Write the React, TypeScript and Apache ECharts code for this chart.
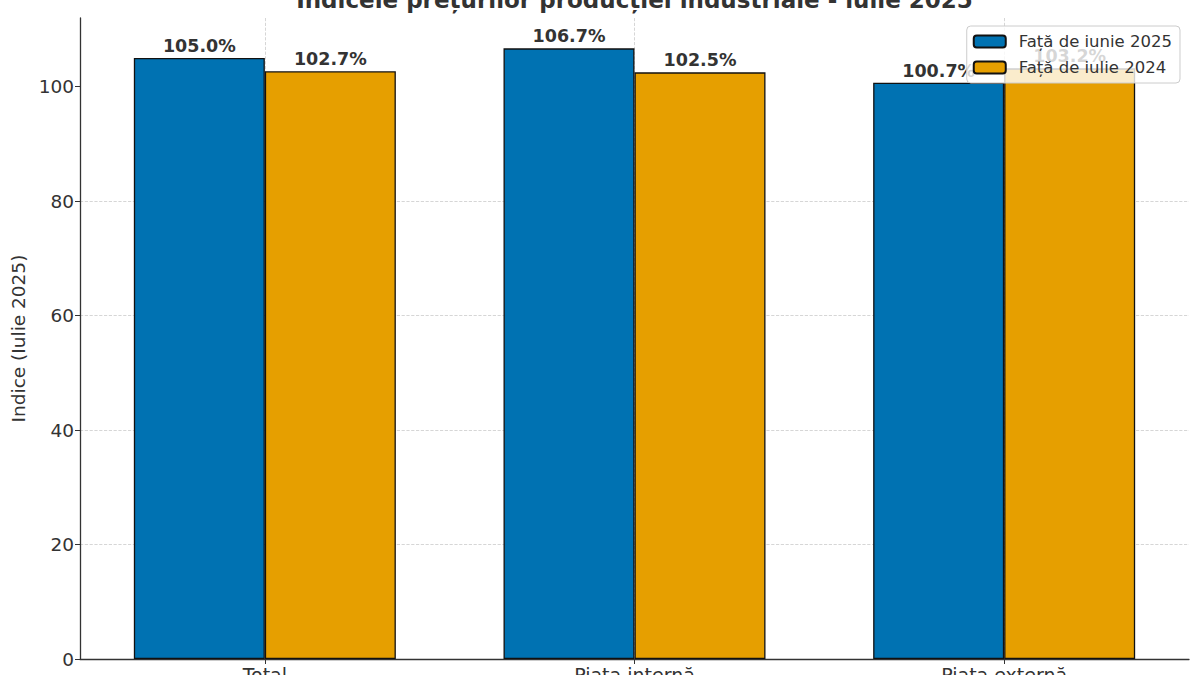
import React, { useEffect, useRef } from "react";
import * as echarts from "echarts";

const TITLE = "Indicele prețurilor producției industriale - iulie 2025";
const Y_NAME = "Indice (Iulie 2025)";
const categories = ["Total", "Piața internă", "Piața externă"];
const seriesNames = ["Față de iunie 2025", "Față de iulie 2024"];
const vsJune2025 = [105.0, 106.7, 100.7];
const vsJuly2024 = [102.7, 102.5, 103.2];
const yTicks = [0, 20, 40, 60, 80, 100];
const colors = ["#0072B2", "#E69F00"];

const FONT = "DejaVu Sans";

export default function App() {
  const ref = useRef<HTMLDivElement>(null);
  useEffect(() => {
    document.body.style.margin = "0";
    const chart = echarts.init(ref.current!, null, { renderer: "svg" });
    const mkSeries = (name: string, data: number[], color: string) => ({
      name,
      type: "bar",
      data,
      barWidth: 131,
      barGap: "0%",
      itemStyle: { color, borderColor: "#111", borderWidth: 1.3 },
      label: {
        show: true,
        position: "top",
        distance: 3,
        formatter: (p: any) => Number(p.value).toFixed(1) + "%",
        fontFamily: FONT,
        fontWeight: "bold",
        fontSize: 17.5,
        color: "#333",
      },
    });
    chart.setOption({
      animation: false,
      backgroundColor: "#fff",
      textStyle: { fontFamily: FONT },
      grid: {
        left: 80,
        right: 11,
        top: 18,
        bottom: 16,
        containLabel: false,
        outerBoundsMode: "none",
      },
      graphic: [
        {
          type: "text",
          x: 634.5,
          y: 11,
          style: {
            text: TITLE,
            fontFamily: FONT,
            fontWeight: "bold",
            fontSize: 23,
            fill: "#333",
            textAlign: "center",
            textVerticalAlign: "bottom",
          },
          z: 10,
        },
      ],
      legend: {
        orient: "vertical",
        right: 20,
        top: 26,
        padding: [7, 8, 7, 6],
        itemWidth: 32,
        itemHeight: 12,
        itemGap: 9,
        backgroundColor: "rgba(255,255,255,0.8)",
        borderColor: "#ccc",
        borderWidth: 1,
        borderRadius: 4,
        textStyle: {
          fontFamily: FONT,
          fontSize: 16.5,
          color: "#333",
          lineHeight: 17,
          padding: [0, 0, 0, 8],
        },
        data: seriesNames,
      },
      xAxis: {
        type: "category",
        data: categories,
        axisLine: { lineStyle: { color: "#333", width: 1.3 } },
        axisTick: { show: true, alignWithLabel: true, length: 5, lineStyle: { color: "#333" } },
        axisLabel: { fontFamily: FONT, fontSize: 19, color: "#333", margin: 6 },
        splitLine: {
          show: true,
          alignWithLabel: true,
          lineStyle: { color: "#ccc", type: "dashed", width: 0.8 },
        },
      },
      yAxis: {
        type: "value",
        min: 0,
        max: 112,
        interval: 20,
        name: Y_NAME,
        nameLocation: "middle",
        nameGap: 51,
        nameTextStyle: { fontFamily: FONT, fontSize: 18.5, color: "#333" },
        axisLine: { show: true, lineStyle: { color: "#333", width: 1.3 } },
        axisTick: { show: true, length: 5, lineStyle: { color: "#333" }, customValues: yTicks },
        axisLabel: { fontFamily: FONT, fontSize: 18.5, color: "#333", margin: 6, customValues: yTicks },
        splitLine: {
          show: true,
          showMaxLine: false,
          lineStyle: { color: "#ccc", type: "dashed", width: 0.8 },
        },
      },
      series: [
        mkSeries(seriesNames[0], vsJune2025, colors[0]),
        mkSeries(seriesNames[1], vsJuly2024, colors[1]),
      ],
    });
    return () => chart.dispose();
  }, []);
  return (
    <div
      ref={ref}
      style={{ position: "absolute", left: 0, top: 0, width: 1200, height: 675 }}
    />
  );
}
